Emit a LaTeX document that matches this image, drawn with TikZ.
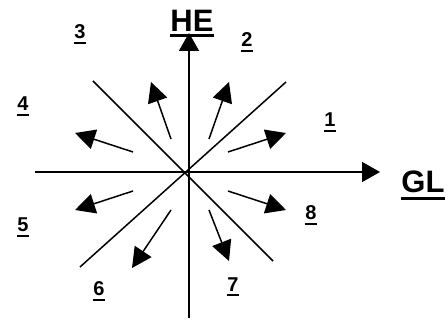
\documentclass[tikz,border=0pt]{standalone}
\usepackage{fontspec}
\setmainfont{Liberation Sans}
\usetikzlibrary{arrows.meta}
% underlined label: gap, rule height, text
\newcommand{\ulab}[3]{\vtop{\hbox{\kern0.5pt#3\kern0.5pt}\kern#1\hrule height #2}}
\tikzset{
  ln/.style={line width=1.5pt},
  ax/.style={ln, -{Triangle[length=18pt, width=20pt]}},
  dir/.style={ln, -{Triangle[length=20pt, width=20pt]}},
  num/.style={font=\bfseries\fontsize{20}{20}\selectfont, anchor=base, inner sep=0pt},
  ttl/.style={font=\bfseries\fontsize{31}{31}\selectfont, anchor=base, inner sep=0pt},
}
\begin{document}
\begin{tikzpicture}[x=1pt, y=-1pt]
\useasboundingbox (0,0) rectangle (447,320);
\fill[white] (0,0) rectangle (447,320);
% axes
\coordinate (o) at (188,172);
\coordinate (xl) at (35,172);
\coordinate (xr) at (380,172);
\coordinate (yb) at (189,318);
\coordinate (yt) at (189,33);
\draw[ax] (xl) -- (xr);
\draw[ax] (yb) -- (yt);
% diagonals
\coordinate (ne) at (286,82);
\coordinate (sw) at (80,267);
\coordinate (nw) at (93,81);
\coordinate (se) at (273,261);
\draw[ln] (ne) -- (sw);
\draw[ln] (nw) -- (se);
% direction arrows
\coordinate (s1) at (228,152); \coordinate (t1) at (286,133);
\coordinate (s2) at (209,139); \coordinate (t2) at (229,82);
\coordinate (s3) at (171,139); \coordinate (t3) at (151,82);
\coordinate (s4) at (133,152); \coordinate (t4) at (75,133);
\coordinate (s5) at (133,191); \coordinate (t5) at (75,210);
\coordinate (s6) at (171,210); \coordinate (t6) at (132,268);
\coordinate (s7) at (209,210); \coordinate (t7) at (229,261);
\coordinate (s8) at (228,191); \coordinate (t8) at (286,210);
\draw[dir] (s1) -- (t1);
\draw[dir] (s2) -- (t2);
\draw[dir] (s3) -- (t3);
\draw[dir] (s4) -- (t4);
\draw[dir] (s5) -- (t5);
\draw[dir] (s6) -- (t6);
\draw[dir] (s7) -- (t7);
\draw[dir] (s8) -- (t8);
% labels
\node[num] (n1) at (330,127) {\ulab{3pt}{2.2pt}{1}};
\node[num] (n2) at (247,47) {\ulab{3pt}{2.2pt}{2}};
\node[num] (n3) at (80,39) {\ulab{3pt}{2.2pt}{3}};
\node[num] (n4) at (23,111) {\ulab{3pt}{2.2pt}{4}};
\node[num] (n5) at (23,232) {\ulab{3pt}{2.2pt}{5}};
\node[num] (n6) at (99,296) {\ulab{3pt}{2.2pt}{6}};
\node[num] (n7) at (233,291) {\ulab{3pt}{2.2pt}{7}};
\node[num] (n8) at (311,220) {\ulab{3pt}{2.2pt}{8}};
\node[ttl] (he) at (192,32) {\ulab{2pt}{3.5pt}{HE}};
\node[ttl] (gl) at (423,193) {\ulab{4pt}{3pt}{GL}};
\end{tikzpicture}
\end{document}
